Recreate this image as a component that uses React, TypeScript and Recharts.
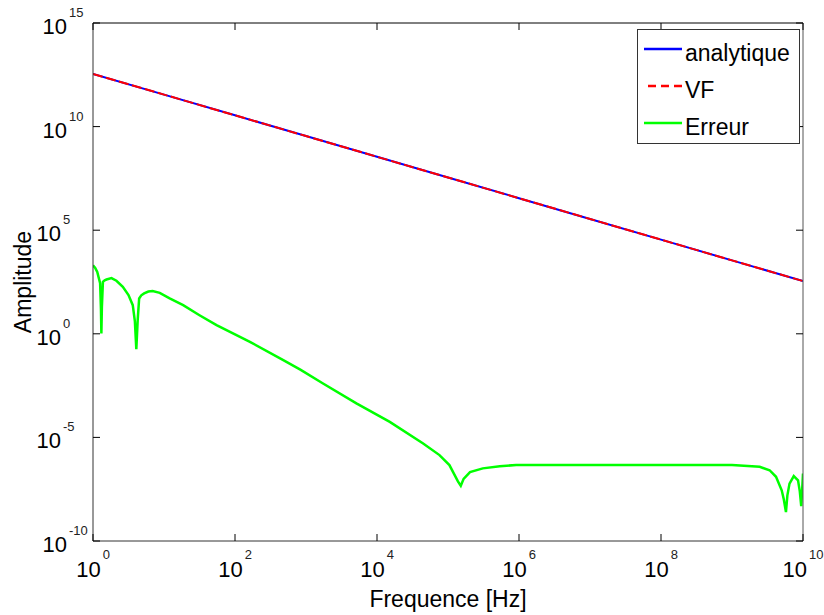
import React from 'react';
import { LineChart, Line, XAxis, YAxis, Legend } from 'recharts';

const FONT = '"Liberation Sans", Arial, Helvetica, sans-serif';

const xTicks = [1, 1e2, 1e4, 1e6, 1e8, 1e10];
const xTickExps = ['0', '2', '4', '6', '8', '10'];
const yTicks = [1e-10, 1e-5, 1, 1e5, 1e10, 1e15];
const yTickExps = ['-10', '-5', '0', '5', '10', '15'];

const seriesNames = ['analytique', 'VF', 'Erreur'];
const seriesColors = ['#0000ff', '#ff0000', '#00ff00'];

const freqAnalytic = [1, 10, 100, 1e3, 1e4, 1e5, 1e6, 1e7, 1e8, 1e9, 1e10];
const ampAnalytic = [3.5e12, 3.5e11, 3.5e10, 3.5e9, 3.5e8, 3.5e7, 3.5e6, 3.5e5, 3.5e4, 3.5e3, 350];
const ampVF = [3.5e12, 3.5e11, 3.5e10, 3.5e9, 3.5e8, 3.5e7, 3.5e6, 3.5e5, 3.5e4, 3.5e3, 350];

const freqErr = [
  1, 1.074, 1.148, 1.259, 1.294, 1.312, 1.334, 1.38, 1.46, 1.549, 1.82, 2.138, 2.63, 3.162, 3.631,
  3.89, 4.074, 4.266, 4.467, 4.786, 5.248, 6.026, 6.918, 8.71, 12.02, 18.62, 31.62, 54.95, 162.2,
  478.6, 831.8, 1738, 5129, 15136, 44668, 75858, 104713, 138038, 151356, 165959, 204174, 309030,
  537032, 912011, 1e7, 1e8, 1e9, 2.455e9, 3.388e9, 4.169e9, 5.012e9, 5.37e9, 5.754e9, 6.026e9,
  6.457e9, 7.413e9, 8.511e9, 9.016e9, 9.441e9, 9.772e9, 1e10,
];
const ampErr = [
  2042, 1500, 955, 275, 15.8, 1.05, 20, 324, 380, 417, 490, 363, 186, 74, 24,
  4.0, 0.18, 5.0, 51, 72, 89, 110, 117, 95, 51, 24, 7.9, 2.6, 0.41,
  0.054, 0.0186, 0.004, 4.4e-4, 5.6e-5, 5.1e-6, 1.4e-6, 4.6e-7, 7.6e-8, 4.6e-8, 1e-7, 2.1e-7, 3.2e-7,
  4.1e-7, 4.6e-7, 4.7e-7, 4.7e-7, 4.6e-7, 3.8e-7, 2.6e-7, 1.26e-7, 2.8e-8, 1e-8, 2.5e-9, 1.6e-8,
  5.9e-8, 1.35e-7, 8.5e-8, 2.5e-8, 4.8e-9, 4e-8, 1.8e-7,
];

const analyticData = freqAnalytic.map((f, i) => ({ f, v: ampAnalytic[i] }));
const vfData = freqAnalytic.map((f, i) => ({ f, v: ampVF[i] }));
const errData = freqErr.map((f, i) => ({ f, v: ampErr[i] }));

const TICK_LEN = 7;

const BottomTick = (props: any) => {
  const { x, y, payload } = props;
  const exp = xTickExps[xTicks.indexOf(payload.value)] ?? '';
  return (
    <g>
      <line x1={x} y1={y} x2={x} y2={y - TICK_LEN} stroke="#000" strokeWidth={1} />
      <text x={x} y={y + 36} textAnchor="middle" fontFamily={FONT} fill="#000">
        <tspan fontSize={22}>10</tspan>
        <tspan fontSize={13} dx={2} dy={-18} fill="#222">{exp}</tspan>
      </text>
    </g>
  );
};

const TopTick = (props: any) => {
  const { x, y } = props;
  return <line x1={x} y1={y} x2={x} y2={y + TICK_LEN} stroke="#000" strokeWidth={1} />;
};

const LeftTick = (props: any) => {
  const { x, y, payload } = props;
  const exp = yTickExps[yTicks.indexOf(payload.value)] ?? '';
  const big = Math.abs(parseInt(exp, 10)) >= 10;
  const baseEnd = x - (big ? 26 : 32);
  return (
    <g>
      <line x1={x} y1={y} x2={x + TICK_LEN} y2={y} stroke="#000" strokeWidth={1} />
      <text x={baseEnd} y={y + 11} textAnchor="end" fontFamily={FONT} fontSize={22} fill="#000">10</text>
      <text x={baseEnd + 2} y={y - 6} textAnchor="start" fontFamily={FONT} fontSize={13} fill="#222">{exp}</text>
    </g>
  );
};

const RightTick = (props: any) => {
  const { x, y } = props;
  return <line x1={x} y1={y} x2={x - TICK_LEN} y2={y} stroke="#000" strokeWidth={1} />;
};

const XLabel = (props: any) => {
  const vb = props.viewBox || {};
  return (
    <text x={vb.x + vb.width / 2} y={vb.y + 66} textAnchor="middle" fontFamily={FONT} fontSize={23} fill="#000">
      Frequence [Hz]
    </text>
  );
};

const YLabel = (props: any) => {
  const vb = props.viewBox || {};
  const cx = 31;
  const cy = vb.y + vb.height / 2;
  return (
    <text x={cx} y={cy} transform={`rotate(-90, ${cx}, ${cy})`} textAnchor="middle" fontFamily={FONT} fontSize={23} fill="#000">
      Amplitude
    </text>
  );
};

const renderLegend = () => (
  <div
    style={{
      width: 163,
      height: 115,
      border: '1px solid #333',
      background: '#fff',
      boxSizing: 'border-box',
    }}
  >
    <svg width={161} height={113} style={{ display: 'block' }}>
      {seriesNames.map((name, i) => (
        <g key={name}>
          <line
            x1={i === 1 ? 10 : 6}
            x2={44}
            y1={19 + 37 * i}
            y2={19 + 37 * i}
            stroke={seriesColors[i]}
            strokeWidth={2.5}
            strokeDasharray={i === 1 ? '8 5' : undefined}
          />
          <text x={47} y={31 + 37 * i} fontFamily={FONT} fontSize={23} fill="#000">
            {name}
          </text>
        </g>
      ))}
    </svg>
  </div>
);

export default function App() {
  return (
    <div style={{ position: 'absolute', left: 0, top: 0, width: 824, height: 615, background: '#fff' }}>
      <LineChart width={824} height={615} margin={{ top: 0, right: 0, bottom: 0, left: 0 }}>
        <XAxis
          xAxisId="bottom"
          dataKey="f"
          type="number"
          scale="log"
          domain={[1, 1e10]}
          allowDataOverflow
          ticks={xTicks}
          interval={0}
          orientation="bottom"
          height={74}
          tickSize={0}
          tickMargin={0}
          tickLine={false}
          tick={<BottomTick />}
          axisLine={{ stroke: '#333', strokeWidth: 1 }}
          label={<XLabel />}
        />
        <XAxis
          xAxisId="top"
          dataKey="f"
          type="number"
          scale="log"
          domain={[1, 1e10]}
          allowDataOverflow
          ticks={xTicks}
          interval={0}
          orientation="top"
          height={23}
          tickSize={0}
          tickMargin={0}
          tickLine={false}
          tick={<TopTick />}
          axisLine={{ stroke: '#000', strokeWidth: 1 }}
        />
        <YAxis
          yAxisId="left"
          type="number"
          scale="log"
          domain={[1e-10, 1e15]}
          allowDataOverflow
          ticks={yTicks}
          interval={0}
          orientation="left"
          width={93}
          tickSize={0}
          tickMargin={0}
          tickLine={false}
          tick={<LeftTick />}
          axisLine={{ stroke: '#333', strokeWidth: 1 }}
          label={<YLabel />}
        />
        <YAxis
          yAxisId="right"
          type="number"
          scale="log"
          domain={[1e-10, 1e15]}
          allowDataOverflow
          ticks={yTicks}
          interval={0}
          orientation="right"
          width={21}
          tickSize={0}
          tickMargin={0}
          tickLine={false}
          tick={<RightTick />}
          axisLine={{ stroke: '#555', strokeWidth: 1 }}
        />
        <Line
          xAxisId="bottom"
          yAxisId="left"
          data={analyticData}
          dataKey="v"
          name={seriesNames[0]}
          stroke={seriesColors[0]}
          strokeWidth={2}
          dot={false}
          activeDot={false}
          isAnimationActive={false}
        />
        <Line
          xAxisId="bottom"
          yAxisId="left"
          data={vfData}
          dataKey="v"
          name={seriesNames[1]}
          stroke={seriesColors[1]}
          strokeWidth={2}
          strokeDasharray="10 3.5"
          dot={false}
          activeDot={false}
          isAnimationActive={false}
        />
        <Line
          xAxisId="bottom"
          yAxisId="left"
          data={errData}
          dataKey="v"
          name={seriesNames[2]}
          stroke={seriesColors[2]}
          strokeWidth={2.5}
          dot={false}
          activeDot={false}
          isAnimationActive={false}
        />
        <Legend
          layout="vertical"
          align="center"
          verticalAlign="middle"
          content={renderLegend}
          wrapperStyle={{ left: 637, top: 29, width: 163, height: 115 }}
        />
      </LineChart>
    </div>
  );
}
